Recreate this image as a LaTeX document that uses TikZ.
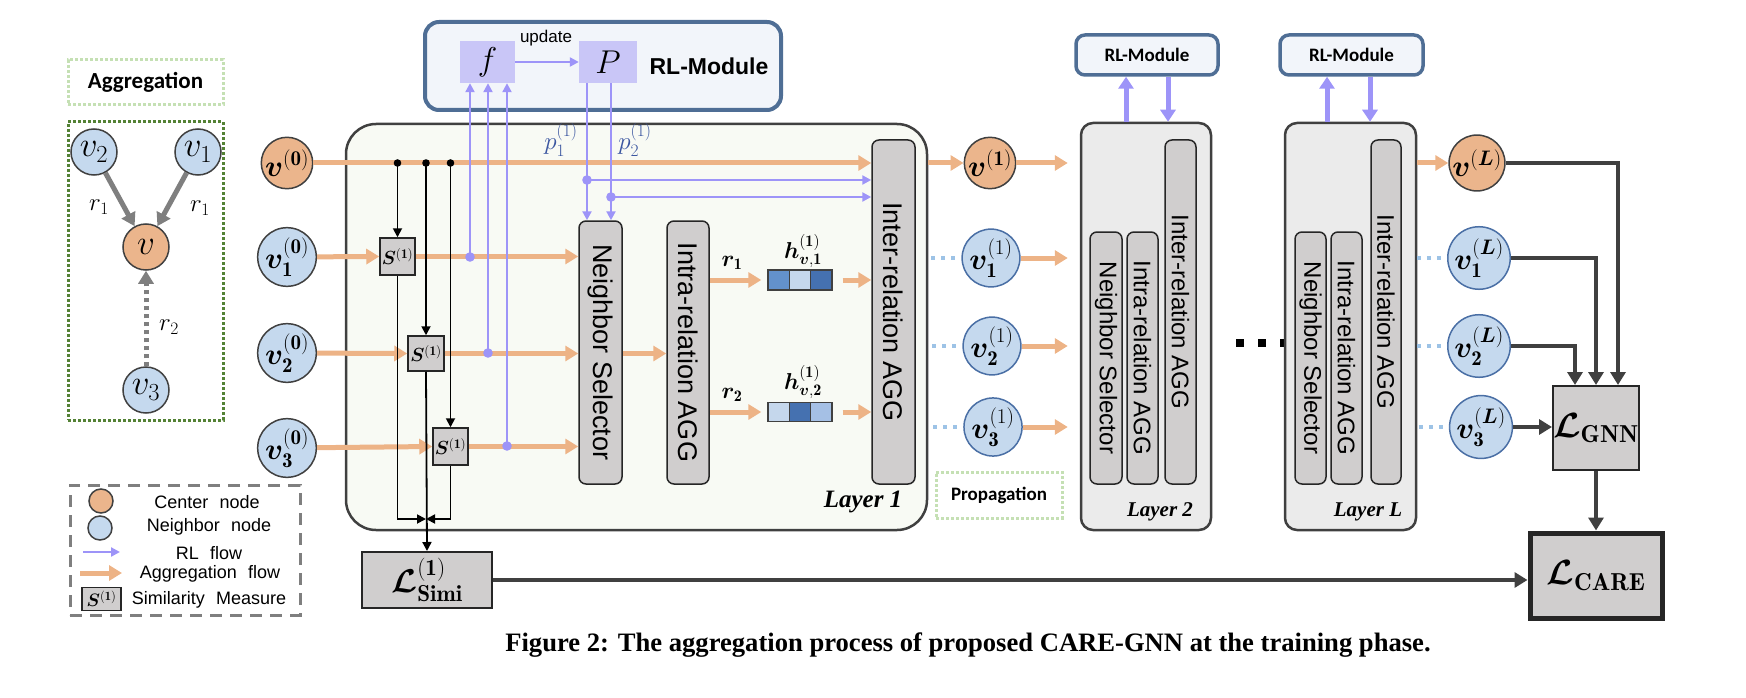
\documentclass[tikz,border=0pt]{standalone}
\usepackage{fix-cm}
\usepackage{amsmath,bm}
\usepackage{fontspec}
\newfontfamily\sansf{Liberation Sans}
\newfontfamily\carl{Carlito}
\newfontfamily\capf{Liberation Serif}
\usetikzlibrary{arrows.meta,calc}
\newcommand\myfs[1]{\fontsize{#1}{#1}\selectfont}
\definecolor{aggc}{HTML}{EDB386}
\definecolor{ctrc}{HTML}{EBB58C}
\definecolor{nbc}{HTML}{C5D9EE}
\definecolor{rlc}{HTML}{9D94F8}
\definecolor{rlbd}{HTML}{4F6E95}
\definecolor{rlfill}{HTML}{F2F5FA}
\definecolor{fpc}{HTML}{C9C6F7}
\definecolor{pblue}{HTML}{3B56A0}
\definecolor{boxg}{HTML}{D0CECE}
\definecolor{lay1}{HTML}{F8FAF4}
\definecolor{lay2}{HTML}{EBEBEB}
\definecolor{dkg}{HTML}{404040}
\definecolor{ltgreen}{HTML}{C5E0B4}
\definecolor{dgreen}{HTML}{548235}
\definecolor{dotbl}{HTML}{9DC3E6}
\definecolor{nbbd}{HTML}{4A6FA5}
\definecolor{hA}{HTML}{6391CC}
\definecolor{hB}{HTML}{C5D7EC}
\definecolor{hC}{HTML}{4571B0}
\definecolor{hD}{HTML}{A5C0E5}
\definecolor{aggray}{HTML}{7F7F7F}
\begin{document}
\begin{tikzpicture}[x=1pt,y=-1pt,
  ctr/.style={circle,draw=dkg,line width=1.5pt,fill=ctrc,minimum size=46pt,inner sep=0pt},
  nb/.style={circle,draw=dkg,line width=1.5pt,fill=nbc,minimum size=46pt,inner sep=0pt},
  nbo/.style={nb,draw=nbbd},
  aggarrow/.style={draw=aggc,line width=5pt,-{Triangle[length=13pt,width=15pt]}},
  rlarrow/.style={draw=rlc,line width=2.2pt,-{Triangle[length=9pt,width=9pt]}},
  rlthick/.style={draw=rlc,line width=5pt,-{Triangle[length=12pt,width=15pt]}},
  blkarrow/.style={draw=black,line width=1.8pt,-{Triangle[length=9pt,width=9pt]}},
  dkarrow/.style={draw=dkg,line width=4.5pt,-{Triangle[length=13pt,width=15pt]}},
  grayarrow/.style={draw=aggray,line width=5pt,-{Triangle[length=13pt,width=15pt]}},
  ibox/.style={draw=black!85,line width=1.5pt,fill=boxg,rounded corners=7pt,inner sep=0pt},
  sbox/.style={draw=black!85,line width=1.5pt,fill=boxg,inner sep=0pt},
  lossbox/.style={draw=black!85,line width=2pt,fill=boxg,inner sep=0pt},
  l1box/.style={draw=dkg,line width=2.5pt,fill=lay1,rounded corners=30pt,inner sep=0pt},
  l2box/.style={draw=dkg,line width=2.5pt,fill=lay2,rounded corners=12pt,inner sep=0pt},
  rlbox/.style={draw=rlbd,line width=4pt,fill=rlfill,rounded corners=14pt,inner sep=0pt},
  fpbox/.style={fill=fpc,inner sep=0pt},
  hcell/.style={draw=dkg,line width=1.5pt,minimum width=21.3pt,minimum height=20pt,inner sep=0pt},
  dotline/.style={draw=dotbl,line width=3.5pt,dash pattern=on 4pt off 6pt},
  vtxt/.style={rotate=-90,font=\sansf\myfs{27}},
  vtxts/.style={rotate=-90,font=\sansf\myfs{24}},
  lgtxt/.style={font=\sansf\myfs{18}}
]
\useasboundingbox (0,0) rectangle (1746,698);

% ---------------- Aggregation group ----------------
\node[draw=ltgreen,line width=3pt,dotted,minimum width=155pt,minimum height=45pt,inner sep=0pt,font=\carl\bfseries\myfs{23}] (aggt) at (145.5,82.5) {Aggregation};
\node[draw=dgreen,line width=3pt,dotted,minimum width=155pt,minimum height=298pt,inner sep=0pt] (aggg) at (145.5,271) {};
\node[nb,font=\myfs{35}] (av2) at (94,152) {$v_2$};
\node[nb,font=\myfs{35}] (av1) at (198,152) {$v_1$};
\node[ctr,font=\myfs{35}] (av) at (146,247) {$v$};
\node[nb,font=\myfs{35}] (av3) at (146,390) {$v_3$};
\draw[grayarrow] (av2) -- (av);
\draw[grayarrow] (av1) -- (av);
\draw[grayarrow,dash pattern=on 4pt off 4pt] (av3) -- (av);
\node[font=\myfs{25}] (lr1a) at (99,207) {$r_1$};
\node[font=\myfs{25}] (lr1b) at (200,208) {$r_1$};
\node[font=\myfs{25}] (lr2) at (169,327) {$r_2$};

% ---------------- Legend ----------------
\node[draw=aggray,line width=3pt,dash pattern=on 12pt off 8pt,minimum width=230pt,minimum height=130pt,inner sep=0pt] (leg) at (185,550) {};
\node[ctr,minimum size=24pt] (lgc) at (101,501) {};
\node[nb,minimum size=24pt] (lgn) at (100,528) {};
\coordinate (lgr1) at (83,552); \coordinate (lgr2) at (120,552);
\draw[rlarrow] (lgr1) -- (lgr2);
\coordinate (lga1) at (80,573); \coordinate (lga2) at (122,573);
\draw[aggarrow] (lga1) -- (lga2);
\node[sbox,minimum width=39pt,minimum height=23pt,font=\myfs{18}] (lgs) at (101.5,599) {$\bm{S}^{(\mathbf{1})}$};
\node[lgtxt] at (207,502) {Center\hspace{0.35em} node};
\node[lgtxt] at (209,527) {Neighbor\hspace{0.35em} node};
\node[lgtxt] at (209,553) {RL\hspace{0.35em} flow};
\node[lgtxt] at (210,574) {Aggregation\hspace{0.35em} flow};
\node[lgtxt] at (209,600) {Similarity\hspace{0.35em} Measure};

% ---------------- Layer 1 ----------------
\node[l1box,minimum width=581pt,minimum height=406pt] (l1) at (636.5,327) {};
\node[font=\capf\bfseries\itshape\myfs{25}] (l1t) at (863,502) {Layer 1};

% RL module
\node[rlbox,minimum width=356pt,minimum height=88pt] (rl1) at (603,66) {};
\node[fpbox,minimum width=55pt,minimum height=42pt,font=\myfs{33}] (f) at (487.5,62) {$f$};
\node[fpbox,minimum width=58pt,minimum height=42pt,font=\myfs{33}] (P) at (608,62) {$P$};
\node[font=\sansf\bfseries\myfs{23}] (rlt) at (709,66) {RL-Module};
\draw[rlarrow] (f.east) -- (P.west);
\node[font=\sansf\myfs{17}] (upd) at (546,38) {update};

% input nodes
\node[ctr,font=\myfs{30}] (v0) at (287,163) {$\bm{v}^{(\mathbf{0})}$};
\node[nb,font=\myfs{30}] (v10) at (287,257) {$\bm{v}_{\mathbf{1}}^{(\mathbf{0})}$};
\node[nb,font=\myfs{30}] (v20) at (287,353) {$\bm{v}_{\mathbf{2}}^{(\mathbf{0})}$};
\node[nb,font=\myfs{30}] (v30) at (287,448) {$\bm{v}_{\mathbf{3}}^{(\mathbf{0})}$};

% inner boxes
\node[ibox,minimum width=43pt,minimum height=263pt] (ns1) at (600.5,352.5) {};
\node[vtxt] at (ns1) {Neighbor Selector};
\node[ibox,minimum width=42pt,minimum height=263pt] (intra1) at (688,352.5) {};
\node[vtxt] at (intra1) {Intra-relation AGG};
\node[ibox,minimum width=43pt,minimum height=344pt] (inter1) at (893.5,312) {};
\node[vtxt] at (inter1) {Inter-relation AGG};

% similarity boxes
\node[sbox,minimum width=35pt,minimum height=37pt,font=\myfs{19}] (S1) at (397.5,256.5) {$\bm{S}^{(\mathbf{1})}$};
\node[sbox,minimum width=36pt,minimum height=35pt,font=\myfs{19}] (S2) at (426,353.5) {$\bm{S}^{(\mathbf{1})}$};
\node[sbox,minimum width=35pt,minimum height=37pt,font=\myfs{19}] (S3) at (450.5,446.5) {$\bm{S}^{(\mathbf{1})}$};

% h vectors
\node[hcell,fill=hA] (h1a) at (778.7,280) {};
\node[hcell,fill=hB] (h1b) at (800,280) {};
\node[hcell,fill=hC] (h1c) at (821.3,280) {};
\node[hcell,fill=hB,minimum height=19pt] (h2a) at (778.7,412) {};
\node[hcell,fill=hC,minimum height=19pt] (h2b) at (800,412) {};
\node[hcell,fill=hD,minimum height=19pt] (h2c) at (821.3,412) {};
\node[font=\myfs{23}] (h1l) at (803,251) {$\bm{h}_{\bm{v},\mathbf{1}}^{(\mathbf{1})}$};
\node[font=\myfs{23}] (h2l) at (803,382) {$\bm{h}_{\bm{v},\mathbf{2}}^{(\mathbf{1})}$};
\node[font=\myfs{23}] (r1l) at (732,263) {$\bm{r}_{\mathbf{1}}$};
\node[font=\myfs{23}] (r2l) at (732,395) {$\bm{r}_{\mathbf{2}}$};

% aggregation flows in layer 1
\draw[aggarrow] (v0) -- (inter1.west |- v0.east);
\draw[aggarrow] (v10) -- (S1.west);
\draw[aggarrow] (v20) -- (S2.west);
\draw[aggarrow] (v30) -- (S3.west);
\draw[aggarrow] (S1.east) -- (ns1.west |- S1.east);
\draw[aggarrow] (S2.east) -- (ns1.west |- S2.east);
\draw[aggarrow] (S3.east) -- (ns1.west |- S3.east);
\draw[aggarrow] (ns1.east |- S2.east) -- (intra1.west |- S2.east);
\draw[aggarrow,shorten >=6pt] (intra1.east |- h1a.west) -- (h1a.west);
\draw[aggarrow,shorten >=6pt] (intra1.east |- h2a.west) -- (h2a.west);
\draw[aggarrow,shorten <=10pt] (h1c.east) -- (inter1.west |- h1c.east);
\draw[aggarrow,shorten <=10pt] (h2c.east) -- (inter1.west |- h2c.east);

% black similarity lines
\coordinate (mrg) at (426,519);
\foreach \s in {S1,S2,S3}{
  \fill (\s |- v0) circle (3.8pt);
  \draw[blkarrow] (\s |- v0) -- (\s.north);
}
\node[lossbox,minimum width=130pt,minimum height=56pt,font=\myfs{33}] (simi) at (427,580) {$\bm{\mathcal{L}}_{\mathbf{Simi}}^{(\mathbf{1})}$};
\draw[blkarrow] (S1.south) |- (S2.south |- mrg);
\draw[blkarrow] (S3.south) |- (S2.south |- mrg);
\draw[blkarrow] (S2.south) -- (simi.north);

% RL flows
\coordinate (fb1) at (470,257);
\coordinate (fb2) at (488,353);
\coordinate (fb3) at (507,446);
\foreach \b in {fb1,fb2,fb3}{
  \draw[rlarrow] (\b) -- (\b |- f.south);
  \fill[rlc] (\b) circle (4.8pt);
}
\coordinate (pd1) at (587,180);
\coordinate (pd2) at (611,197);
\foreach \b in {pd1,pd2}{
  \draw[rlarrow] (\b |- P.south) -- (\b |- ns1.north);
  \draw[rlarrow] (\b) -- (inter1.west |- \b);
  \fill[rlc] (\b) circle (4.8pt);
}
\node[font=\myfs{25},text=pblue] (p1l) at (561,140) {$p_1^{(1)}$};
\node[font=\myfs{25},text=pblue] (p2l) at (635,140) {$p_2^{(1)}$};

% ---------------- layer 1 outputs ----------------
\node[ctr,font=\myfs{30}] (v1) at (990,163) {$\bm{v}^{(\mathbf{1})}$};
\node[nbo,font=\myfs{30}] (v11) at (991,258) {$\bm{v}_{\mathbf{1}}^{(1)}$};
\node[nbo,font=\myfs{30}] (v21) at (992,346) {$\bm{v}_{\mathbf{2}}^{(1)}$};
\node[nbo,font=\myfs{30}] (v31) at (993,427) {$\bm{v}_{\mathbf{3}}^{(1)}$};
\draw[aggarrow] (l1.east |- v1) -- (v1.west);
\foreach \n in {v11,v21,v31}{
  \draw[dotline] ($(\n.west)+(-30,0)$) -- (\n.west);
}
\node[draw=ltgreen,line width=3pt,dotted,minimum width=126pt,minimum height=46pt,inner sep=0pt,font=\carl\bfseries\myfs{19}] (prop) at (999,495) {Propagation};

% ---------------- Layer 2 ----------------
\node[l2box,minimum width=130pt,minimum height=407pt] (l2) at (1146,326.5) {};
\node[rlbox,line width=3.5pt,rounded corners=9pt,minimum width=142pt,minimum height=40pt,font=\carl\bfseries\myfs{19}] (rl2) at (1147,55) {RL-Module};
\node[ibox,minimum width=32pt,minimum height=252pt] (ns2) at (1106,358) {};
\node[vtxts] at (ns2) {Neighbor Selector};
\node[ibox,minimum width=31pt,minimum height=252pt] (intra2) at (1142.5,358) {};
\node[vtxts] at (intra2) {Intra-relation AGG};
\node[ibox,minimum width=31pt,minimum height=344pt] (inter2) at (1180.5,312) {};
\node[vtxts] at (inter2) {Inter-relation AGG};
\node[font=\capf\bfseries\itshape\myfs{21}] (l2t) at (1160,512) {Layer 2};
\coordinate (u2) at (1126,0); \coordinate (d2) at (1168,0);
\draw[rlthick] (u2 |- l2.north) -- (u2 |- rl2.south);
\draw[rlthick] (d2 |- rl2.south) -- (d2 |- l2.north);
\foreach \n in {v1,v11,v21,v31}{
  \draw[aggarrow,shorten >=12pt] (\n.east) -- (l2.west |- \n.east);
}

% dots
\foreach \x in {1240,1262,1284}{ \fill (\x-3.8,339.2) rectangle (\x+3.8,346.8); }

% ---------------- Layer L ----------------
\node[l2box,minimum width=131pt,minimum height=407pt] (lL) at (1350.5,326.5) {};
\node[rlbox,line width=3.5pt,rounded corners=9pt,minimum width=143pt,minimum height=40pt,font=\carl\bfseries\myfs{19}] (rlL) at (1351.5,55) {RL-Module};
\node[ibox,minimum width=31pt,minimum height=252pt] (nsL) at (1310.5,358) {};
\node[vtxts] at (nsL) {Neighbor Selector};
\node[ibox,minimum width=31pt,minimum height=252pt] (intraL) at (1346.5,358) {};
\node[vtxts] at (intraL) {Intra-relation AGG};
\node[ibox,minimum width=30pt,minimum height=344pt] (interL) at (1386,312) {};
\node[vtxts] at (interL) {Inter-relation AGG};
\node[font=\capf\bfseries\itshape\myfs{21}] (lLt) at (1368,512) {Layer L};
\coordinate (uL) at (1327,0); \coordinate (dL) at (1370,0);
\draw[rlthick] (uL |- lL.north) -- (uL |- rlL.south);
\draw[rlthick] (dL |- rlL.south) -- (dL |- lL.north);

% outputs L
\node[ctr,font=\myfs{30}] (vL) at (1477,163) {$\bm{v}^{(\bm{L})}$};
\node[nbo,font=\myfs{30}] (v1L) at (1479,258) {$\bm{v}_{\mathbf{1}}^{(\bm{L})}$};
\node[nbo,font=\myfs{30}] (v2L) at (1479,346) {$\bm{v}_{\mathbf{2}}^{(\bm{L})}$};
\node[nbo,font=\myfs{30}] (v3L) at (1481,427) {$\bm{v}_{\mathbf{3}}^{(\bm{L})}$};
\draw[aggarrow] (lL.east |- vL) -- (vL.west);
\foreach \n in {v1L,v2L,v3L}{
  \draw[dotline] ($(\n.west)+(-30,0)$) -- (\n.west);
}

% losses
\node[lossbox,minimum width=86pt,minimum height=84pt,font=\myfs{35}] (gnn) at (1596,428) {$\bm{\mathcal{L}}_{\mathbf{GNN}}$};
\node[lossbox,line width=5pt,minimum width=132pt,minimum height=85pt,font=\myfs{35}] (care) at (1596,575.5) {$\bm{\mathcal{L}}_{\mathbf{CARE}}$};
\draw[dkarrow] (vL.east) -| ($(gnn.north)+(22,0)$);
\draw[dkarrow] (v1L.east) -| (gnn.north);
\draw[dkarrow] (v2L.east) -| ($(gnn.north)+(-21,0)$);
\draw[dkarrow] (v3L.east) -- (gnn.west |- v3L.east);
\draw[dkarrow] (gnn.south) -- (care.north);
\draw[dkarrow] (simi.east) -- (care.west |- simi.east);

% caption
\node[font=\capf\bfseries\myfs{26.6}] (cap) at (968,645) {Figure 2: The aggregation process of proposed CARE-GNN at the training phase.};
\end{tikzpicture}
\end{document}
